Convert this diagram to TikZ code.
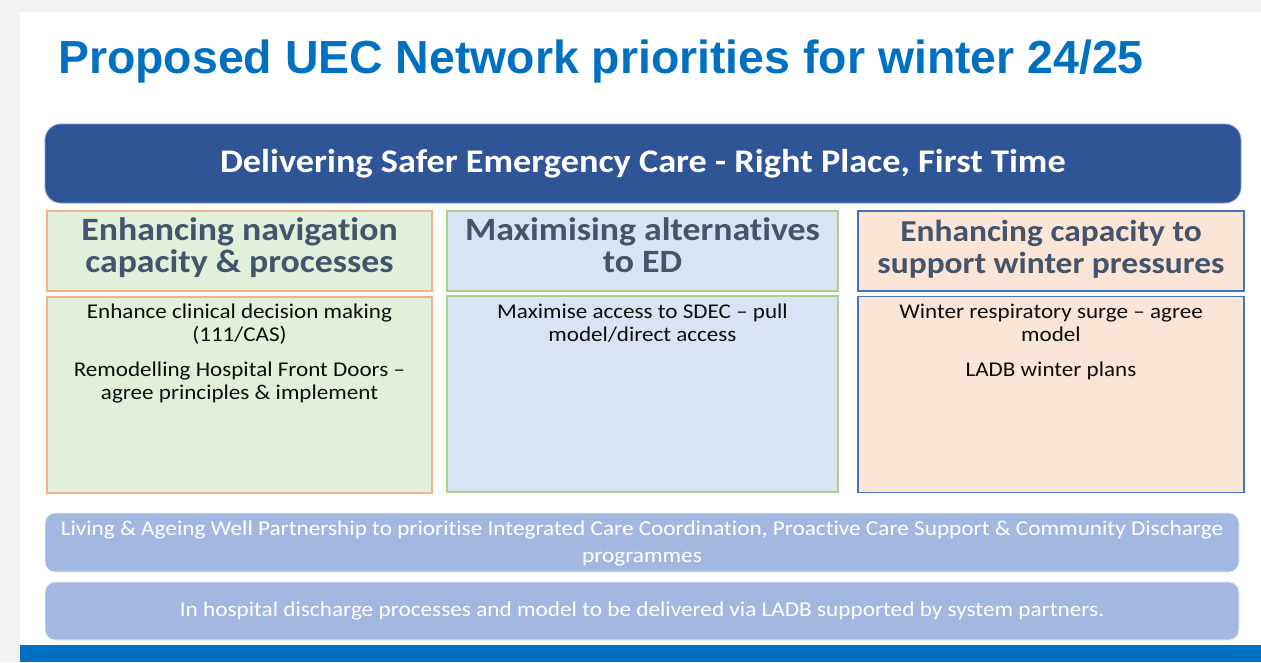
\documentclass[tikz,border=0pt]{standalone}
\usepackage{fontspec}
\setmainfont{Carlito}[FakeStretch=1.1,Ligatures={NoCommon,NoContextual}]
\newfontfamily\titlefont{Liberation Sans}
\usetikzlibrary{positioning}

\definecolor{pagegrey}{HTML}{F2F2F2}
\definecolor{titleblue}{HTML}{0070C0}
\definecolor{bannerblue}{HTML}{2F5597}
\definecolor{bannerline}{HTML}{7F9FD0}
\definecolor{headgrey}{HTML}{44546A}
\definecolor{greenfill}{HTML}{E2EFDA}
\definecolor{orangeline}{HTML}{F4B183}
\definecolor{bluefill}{HTML}{DAE3F3}
\definecolor{greenline}{HTML}{A9D18E}
\definecolor{peachfill}{HTML}{FBE5D6}
\definecolor{blueline}{HTML}{4472C4}
\definecolor{barfill}{HTML}{A2B8E1}

\begin{document}
\begin{tikzpicture}[x=0.75pt,y=-0.75pt,
        box/.style={rectangle,draw,line width=0.9pt,inner sep=0pt},
        head/.style={box,minimum height=60pt},
        body/.style={box,minimum height=147pt},
        navcol/.style={fill=greenfill,draw=orangeline,minimum width=288.75pt},
        altcol/.style={fill=bluefill,draw=greenline,minimum width=293.25pt},
        capcol/.style={fill=peachfill,draw=blueline,minimum width=289.5pt},
        bar/.style={rectangle,rounded corners=7.5pt,fill=barfill,draw=white!80!barfill,
            line width=0.6pt,minimum width=895.5pt,inner sep=0pt},
        headtext/.style={anchor=north,inner sep=0pt,align=center,text=headgrey,
            font=\fontsize{24.4}{24}\selectfont\bfseries},
        bodytext/.style={anchor=north,inner sep=0pt,align=center,text=black!95,
            font=\fontsize{15.75}{17.25}\selectfont},
        bartext/.style={anchor=north,inner sep=0pt,align=center,text=white,
            font=\fontsize{15.85}{20.25}\selectfont}]

    % page and footer band
    \useasboundingbox (0,0) rectangle (1261,662);
    \fill[pagegrey] (0,0) rectangle (1261,662);
    \fill[white] (20,12) rectangle (1261,645);
    \fill[titleblue] (20,645) rectangle (1261,662);

    \node[anchor=base west,inner sep=0pt,text=titleblue,
        font=\titlefont\fontsize{34.8}{40}\selectfont\bfseries] (title) at (58,73)
        {Proposed UEC Network priorities for winter 24/25};

    % banner
    \node[rectangle,rounded corners=12pt,fill=bannerblue,draw=bannerline,line width=0.6pt,
        minimum width=897pt,minimum height=59.25pt,text=white,
        font=\fontsize{24.75}{28}\selectfont\bfseries] (banner) at (643,163.5)
        {Delivering Safer Emergency Care - Right Place, First Time};

    % three columns: heading and contents
    \node[head,navcol] (navhead) at (239.5,251) {};
    \node[head,altcol] (althead) at (642.5,251) {};
    \node[head,capcol] (caphead) at (1051,251) {};

    \node[body,navcol] (navbody) at (239.5,395) {};
    \node[body,altcol] (altbody) at (642.5,394) {};
    \node[body,capcol] (capbody) at (1051,394.5) {};

    \node[headtext] (navtitle) at (239.5,217) {Enhancing navigation\\capacity \& processes};
    \node[headtext] (alttitle) at (642.5,217) {Maximising alternatives\\to ED};
    \node[headtext,font=\fontsize{22.8}{24}\selectfont\bfseries] (captitle) at (1051,220)
        {Enhancing capacity to\\support winter pressures};

    \node[bodytext] (navtext) at (239.5,304)
        {Enhance clinical decision making\\(111/CAS)\\[9pt]
         Remodelling Hospital Front Doors --\\agree principles \& implement};
    \node[bodytext] (alttext) at (642.5,304)
        {Maximise access to SDEC -- pull\\model/direct access};
    \node[bodytext] (captext) at (1051,304)
        {Winter respiratory surge -- agree\\model\\[9pt]LADB winter plans};

    % partnership bars
    \node[bar,minimum height=44.25pt] (lawbar) at (642,542.5) {};
    \node[bar,minimum height=43.5pt] (ladbbar) at (642,611) {};

    \node[bartext] (lawtext) at (642,521)
        {Living \& Ageing Well Partnership to prioritise Integrated Care Coordination, Proactive Care Support \& Community Discharge\\programmes};
    \node[bartext] (ladbtext) at (642,602)
        {In hospital discharge processes and model to be delivered via LADB supported by system partners.};
\end{tikzpicture}
\end{document}
